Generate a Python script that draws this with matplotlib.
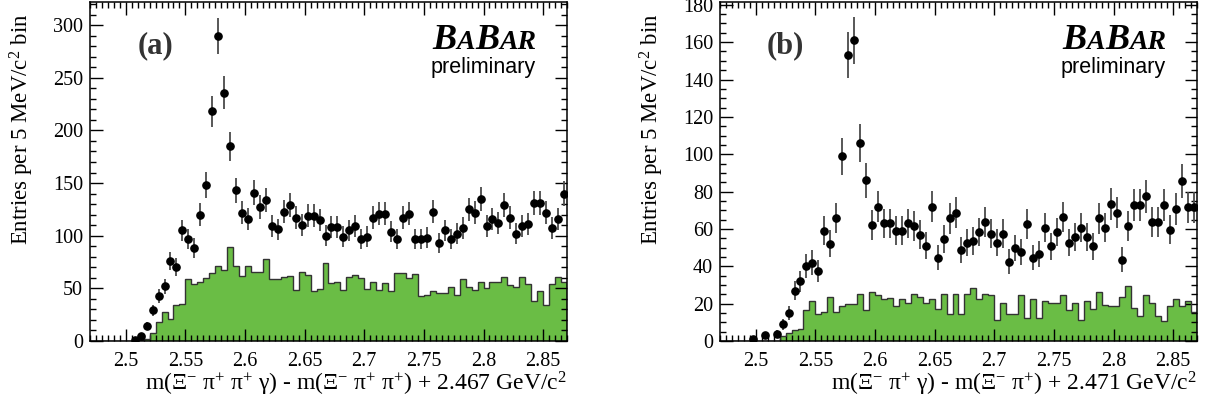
import numpy as np
import matplotlib
matplotlib.use("Agg")
import matplotlib.pyplot as plt
from matplotlib.ticker import MultipleLocator, FuncFormatter
from matplotlib.offsetbox import TextArea, HPacker, VPacker, AnchoredOffsetbox

plt.rcParams['font.family'] = ['Liberation Serif', 'DejaVu Serif']
plt.rcParams['mathtext.fontset'] = 'custom'
plt.rcParams['mathtext.rm'] = 'Liberation Serif'
plt.rcParams['mathtext.it'] = 'Liberation Serif:italic'
plt.rcParams['mathtext.bf'] = 'Liberation Serif:bold'

# 80 bins of 5 MeV from 2.47 to 2.87
bin_edges = np.round(np.arange(2.47, 2.8701, 0.005), 4)

# panel (a): data points (entries per bin)
data_a = [0, 0, 0, 0, 0, 0, 0, 1, 5, 14, 29, 43, 52, 76, 70, 105, 97, 88, 120, 148,
          218, 290, 236, 185, 143, 122, 116, 141, 127, 134, 109, 106, 123, 129, 117, 110, 119, 119, 115, 100,
          108, 108, 99, 105, 109, 97, 99, 117, 121, 121, 104, 97, 117, 121, 97, 97, 98, 123, 93, 105,
          97, 102, 107, 125, 122, 135, 109, 116, 112, 129, 117, 102, 109, 111, 131, 131, 122, 107, 116, 140]
# panel (a): background histogram (green)
bkg_a = [0, 0, 0, 0, 0, 0, 0, 0, 1, 2, 8, 18, 28, 21, 34, 35, 59, 54, 56, 60,
         65, 71, 67, 89, 71, 62, 71, 65.5, 65.5, 77.6, 58.6, 58.6, 60.5, 61.4, 48.4, 65.8, 62.7, 47.5, 49.4, 73.8,
         54.8, 55.8, 48.4, 61.1, 62.7, 59.5, 49.4, 55.8, 48.4, 54.8, 47.2, 64.9, 64.9, 60, 63.6, 42.7, 43.7, 47.5, 45.9, 45.9,
         51.6, 43.7, 58.6, 51.6, 48.4, 55.8, 50.3, 55.8, 55.8, 60.5, 53.2, 51.6, 60.5, 54.2, 38.3, 47.5, 34.2, 54, 60.5, 56]

# panel (b): data points
data_b = [0, 0, 0, 0, 0, 1, 0, 3, 0, 4, 9, 15, 27, 32, 40, 42, 37.5, 59, 52, 66,
          99, 153, 161, 106, 86, 62, 72, 63, 63, 59, 59, 63, 61.5, 57, 51, 72, 44.5, 54.5, 65.6, 68.7,
          48.6, 52.7, 53.6, 58.4, 63.6, 57.5, 52.5, 57.5, 42.5, 49.7, 47.7, 62.5, 44.5, 46.5, 60.6, 50.7, 58.4, 66.5, 52.5, 55.6,
          60.6, 55.6, 50.7, 65.6, 60.6, 73.6, 68.6, 43.6, 61.5, 72.6, 72.6, 77.5, 63.6, 63.6, 72.6, 59.5, 70.6, 85.6, 71.5, 71.5]
# panel (b): background histogram
bkg_b = [0, 0, 0, 0, 0, 0, 0, 0, 0, 0, 2.5, 4.5, 5.7, 6.6, 16.8, 21.4, 14.7, 15.5, 23.3, 15.5,
         18.8, 19.7, 19.7, 25.4, 16.8, 26.4, 24.4, 22.3, 23.2, 18.6, 22.3, 20.6, 25.4, 23.6, 20.6, 22.3, 17.3, 25.4, 14.7, 25.4,
         14.7, 25.4, 28.6, 22.3, 25.4, 24.7, 11.4, 20.6, 14.7, 14.7, 24.5, 12.3, 22.5, 12.5, 21.4, 20.6, 20.6, 24.5, 16.4, 20.6,
         11.4, 21.4, 17.3, 26.3, 19.5, 18.6, 18.6, 23.6, 29.5, 17.7, 13.6, 24.5, 20.6, 13.6, 10.6, 18.6, 22.7, 18.6, 21.4, 15.5]

panels = [
    dict(data=data_a, bkg=bkg_a, tag='(a)', ymax=322, major=50, minor=10,
         xlabel=r'm(Ξ$^{-}$ π$^{+}$ π$^{+}$ γ) - m(Ξ$^{-}$ π$^{+}$ π$^{+}$) + 2.467 GeV/c$^{2}$'),
    dict(data=data_b, bkg=bkg_b, tag='(b)', ymax=181.5, major=20, minor=5,
         xlabel=r'm(Ξ$^{-}$ π$^{+}$ γ) - m(Ξ$^{-}$ π$^{+}$) + 2.471 GeV/c$^{2}$'),
]

W, H = 1205, 404
fig = plt.figure(figsize=(W / 100, H / 100), dpi=100)
lefts = [90, 720]

for left, p in zip(lefts, panels):
    ax = fig.add_axes([left / W, 63 / H, 477 / W, 339 / H])
    centers = 0.5 * (bin_edges[:-1] + bin_edges[1:])
    y = np.array(p['data'], dtype=float)
    b = np.array(p['bkg'], dtype=float)

    ax.stairs(b, bin_edges, fill=True, color='#6abd45', zorder=1)
    ax.stairs(b, bin_edges, color='#333333', lw=1.0, zorder=2)

    m = y > 0
    ax.errorbar(centers[m], y[m], yerr=np.sqrt(y[m]), fmt='o', ms=5.2,
                color='black', ecolor='#4a4a4a', elinewidth=1.3, capsize=0, zorder=3)

    ax.set_xlim(2.47, 2.87)
    ax.set_ylim(0, p['ymax'])
    ax.xaxis.set_major_locator(MultipleLocator(0.05))
    ax.xaxis.set_minor_locator(MultipleLocator(0.005))
    ax.yaxis.set_major_locator(MultipleLocator(p['major']))
    ax.yaxis.set_minor_locator(MultipleLocator(p['minor']))
    ax.xaxis.set_major_formatter(FuncFormatter(lambda v, _: ('%.2f' % v).rstrip('0').rstrip('.')))
    ax.tick_params(which='both', direction='in', top=True, right=True, labelsize=14.5, width=1.0)
    ax.tick_params(which='major', length=9)
    ax.tick_params(which='minor', length=4.5)
    ax.tick_params(axis='x', pad=8)
    ax.tick_params(axis='y', pad=5)
    for s in ax.spines.values():
        s.set_linewidth(1.1)

    # axis titles, right/top aligned like ROOT
    fig.text((left + 477) / W, 14 / H, p['xlabel'], fontsize=17, ha='right', va='baseline')
    fig.text((left - 68) / W, 1 - 14 / H, r'Entries per 5 MeV/c$^{2}$ bin', fontsize=16.5,
             rotation=90, ha='center', va='top')

    ax.text(0.137, 0.872, p['tag'], transform=ax.transAxes, fontsize=22,
            fontweight='bold', color='#333333', ha='center', va='center')

    big = dict(fontsize=26, fontstyle='italic', fontweight='bold', color='black')
    small = dict(fontsize=20, fontstyle='italic', fontweight='bold', color='black')
    babar = HPacker(children=[TextArea('B', textprops=big), TextArea('A', textprops=small),
                              TextArea('B', textprops=big), TextArea('AR', textprops=small)],
                    align='baseline', pad=0, sep=0)
    prelim = TextArea('preliminary', textprops=dict(fontsize=15.5, family='Liberation Sans'))
    box = VPacker(children=[babar, prelim], align='right', pad=0, sep=0)
    anch = AnchoredOffsetbox(loc='upper right', child=box, frameon=False, pad=0, borderpad=0,
                             bbox_to_anchor=(0.935, 0.935), bbox_transform=ax.transAxes)
    ax.add_artist(anch)

fig.savefig('out.png', dpi=100)
